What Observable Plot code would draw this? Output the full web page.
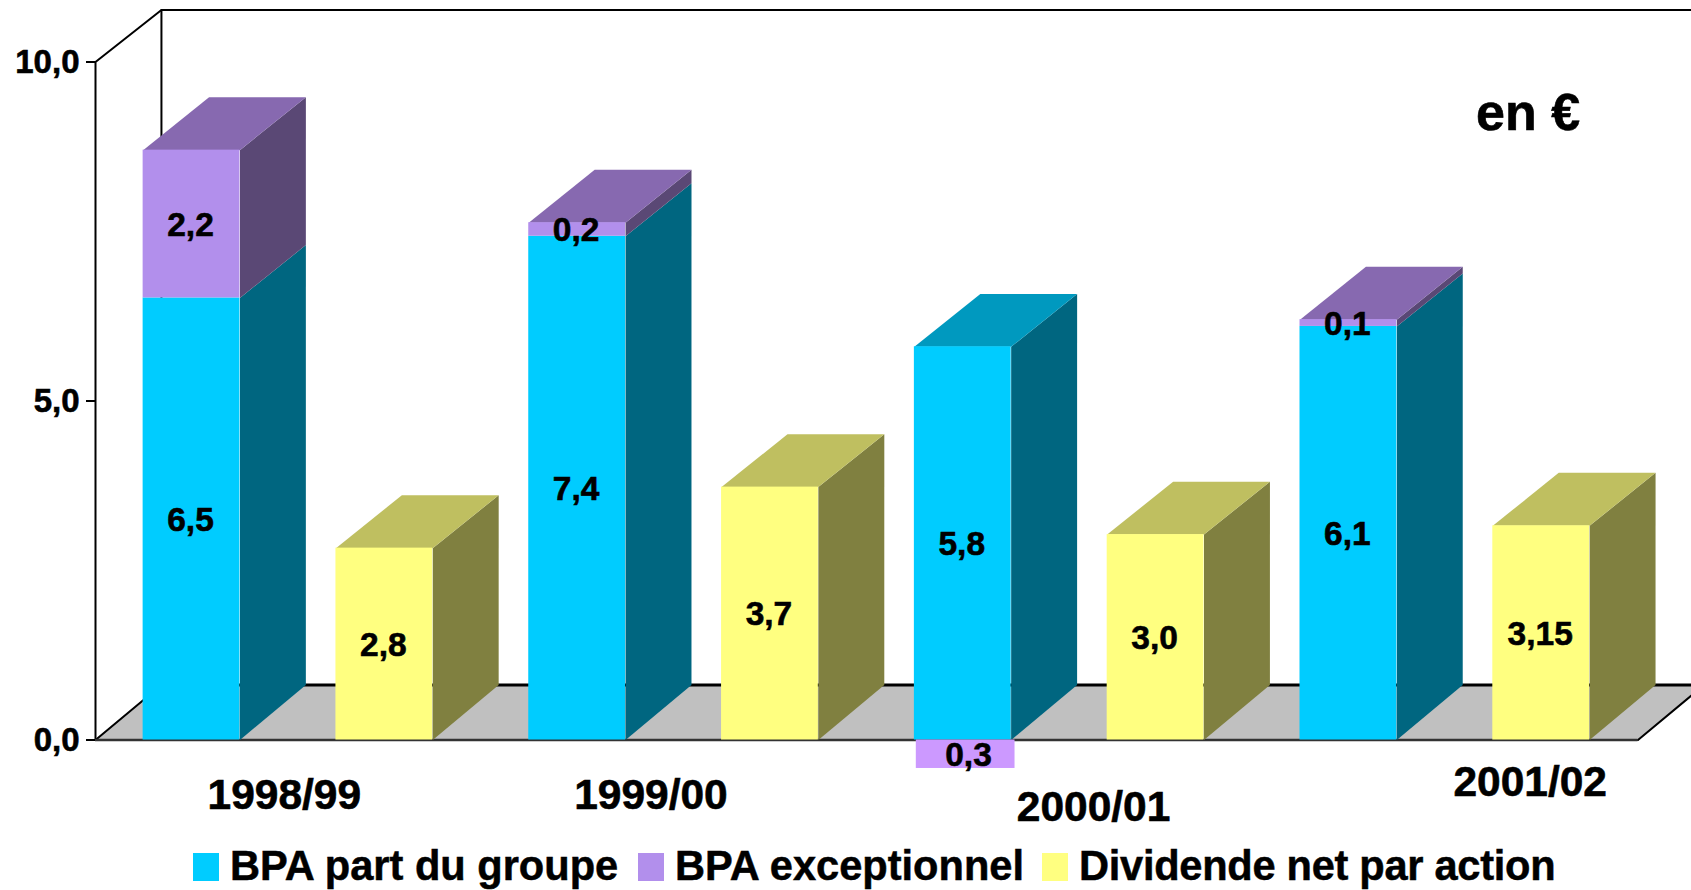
<!DOCTYPE html>
<html lang="fr">
<head>
<meta charset="utf-8">
<script src="https://cdn.jsdelivr.net/npm/d3@7"></script>
<script src="https://cdn.jsdelivr.net/npm/@observablehq/plot@0.6"></script>
<style>
html,body{margin:0;padding:0;background:#fff;overflow:hidden;width:1691px;height:890px}
#legend{position:relative;height:50px;font:bold 41.6px "Liberation Sans",Arial,sans-serif;color:#000;white-space:nowrap;-webkit-text-stroke:.5px #000}
#legend span{position:absolute;top:1px;line-height:50px}
#legend i{position:absolute;top:13px;width:26px;height:28px}
svg{display:block}
svg text{stroke:#000;stroke-width:.6px}
</style>
</head>
<body>
<div id="chart"></div>
<div id="legend"></div>
<script>
const categories = ["1998/99","1999/00","2000/01","2001/02"];
const bpaGroupe = [6.52,7.43,5.8,6.1];
const bpaExceptionnel = [2.18,0.2,-0.42,0.1];
const bpaExceptionnelLabels = ["2,2","0,2","0,3","0,1"];
const dividende = [2.83,3.73,3.03,3.16];
const dividendeLabels = ["2,8","3,7","3,0","3,15"];
const bpaGroupeLabels = ["6,5","7,4","5,8","6,1"];
const yTicks = [0,5,10];
const legendLabels = ["BPA part du groupe","BPA exceptionnel","Dividende net par action"];

const cyan = {front:"#00CCFF", side:"#006680", top:"#0099BF"};
const purple = {front:"#B28FEC", side:"#5A4875", top:"#8769B0"};
const yellow = {front:"#FFFF80", side:"#808040", top:"#BFBF60"};
const negativePurple = "#CC99FF";

// depth of the fake 3D box, in scale units
const depthX = 0.342, depthY = 0.78, floorDepthY = 0.81, wallTop = 10.767, halfBar = 0.251;
const nSlots = categories.length * 2;

const fronts = [], faces = [], labels = [];
let fid = 0;
function face(points, fill){
  const id = fid++;
  points.forEach(([x,y]) => faces.push({x,y,id,fill}));
}
function box(cx, y1, y2, pal, withTop){
  const x1 = cx - halfBar, x2 = cx + halfBar;
  const by = y1 === 0 ? floorDepthY : y1 + depthY;
  face([[x2,y1],[x2+depthX,by],[x2+depthX,y2+depthY],[x2,y2]], pal.side);
  if (withTop) face([[x1,y2],[x2,y2],[x2+depthX,y2+depthY],[x1+depthX,y2+depthY]], pal.top);
  fronts.push({x1,x2,y1,y2,fill:pal.front});
}
categories.forEach((c,i) => {
  const cx1 = 2*i + 0.498, cx2 = 2*i + 1.498;
  const v = bpaGroupe[i], e = bpaExceptionnel[i];
  box(cx1, 0, v, cyan, e <= 0);
  labels.push({x:cx1, y:v/2, t:bpaGroupeLabels[i]});
  if (e > 0) {
    box(cx1, v, v+e, purple, true);
    labels.push({x:cx1, y:v+e/2, t:bpaExceptionnelLabels[i]});
  } else {
    fronts.push({x1:cx1-halfBar+0.01, x2:cx1+halfBar+0.02, y1:e, y2:0, fill:negativePurple});
    labels.push({x:cx1+0.035, y:e/2, t:bpaExceptionnelLabels[i]});
  }
  box(cx2, 0, dividende[i], yellow, true);
  labels.push({x:cx2, y:dividende[i]/2, t:dividendeLabels[i]});
});

const floor = [[0,0],[nSlots,0],[nSlots+depthX,floorDepthY],[depthX,floorDepthY]].map(([x,y])=>({x,y}));
const wallLines = [
  [[0,0],[0,10],[depthX,wallTop],[nSlots+depthX,wallTop]],
  [[depthX,wallTop],[depthX,floorDepthY]],
  [[0,0],[depthX,floorDepthY]],
  [[nSlots,0],[nSlots+depthX,floorDepthY]]
];

const labelOffsets = [[-4,55],[-23,55],[34,67],[85,42]];
const fmt = d => d3.format(".1f")(d).replace(".",",");

const plot = Plot.plot({
  width:1691, height:840,
  marginLeft:95, marginRight:53.5, marginTop:61.5, marginBottom:100.5,
  style:{background:"#fff", fontFamily:'"Liberation Sans",Arial,sans-serif', color:"#000"},
  x:{domain:[0,nSlots], axis:null},
  y:{domain:[0,10], axis:null},
  color:{type:"identity"},
  marks:[
    Plot.line(floor,{x:"x",y:"y",fill:"#C0C0C0",stroke:"none"}),
    ...wallLines.map(l => Plot.line(l.map(([x,y])=>({x,y})),{x:"x",y:"y",stroke:"#000",strokeWidth:2})),
    Plot.ruleY([floorDepthY],{x1:depthX,x2:nSlots+depthX,stroke:"#000",strokeWidth:3}),
    Plot.ruleY([0],{x1:0,x2:nSlots,stroke:"#333",strokeWidth:2.5}),
    Plot.axisY({ticks:yTicks,tickFormat:fmt,tickSize:9,tickPadding:7,fontSize:33,fontWeight:"bold",strokeWidth:2,label:null,stroke:"#000"}),
    Plot.line(faces,{x:"x",y:"y",z:"id",fill:"fill",stroke:"none"}),
    Plot.rect(fronts,{x1:"x1",x2:"x2",y1:"y1",y2:"y2",fill:"fill"}),
    Plot.text(labels,{x:"x",y:"y",text:"t",dx:-1,dy:1,fontSize:33.5,fontWeight:"bold",fill:"#000"}),
    ...categories.map((c,i)=>Plot.text([c],{x:[2*i+1],y:[0],text:d=>d,dx:labelOffsets[i][0],dy:labelOffsets[i][1],fontSize:42.5,fontWeight:"bold",fill:"#000"})),
    Plot.text(["en €"],{x:[7.43],y:[9.24],text:d=>d,fontSize:52,fontWeight:"bold",fill:"#000"})
  ]
});
document.getElementById("chart").appendChild(plot);

const legendColors = [cyan.front, purple.front, yellow.front];
const swatchX = [193,638,1042];
const legendEl = document.getElementById("legend");
legendLabels.forEach((t,i)=>{
  const sw=document.createElement("i");
  sw.style.left=swatchX[i]+"px"; sw.style.background=legendColors[i];
  legendEl.appendChild(sw);
  const s=document.createElement("span");
  s.style.left=(swatchX[i]+37)+"px"; s.textContent=t;
  if (i===2) s.style.letterSpacing="-0.28px";
  legendEl.appendChild(s);
});
</script>
</body>
</html>
